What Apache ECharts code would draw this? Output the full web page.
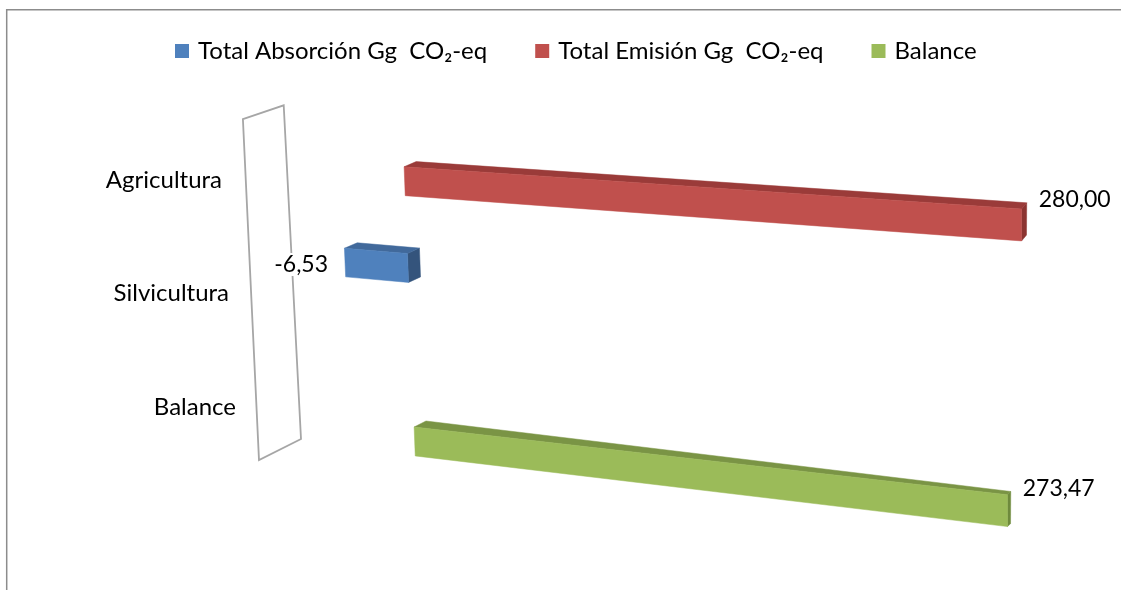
<!DOCTYPE html>
<html>
<head>
<meta charset="utf-8">
<script src="https://cdn.jsdelivr.net/npm/echarts@6/dist/echarts.min.js"></script>
<style>
  html, body { margin: 0; padding: 0; background: #fff; }
  #main { width: 1121px; height: 590px; }
</style>
</head>
<body>
<div id="main"></div>
<script>
var categories = ['Agricultura', 'Silvicultura', 'Balance'];
var seriesNames = ['Total Absorción Gg  CO₂-eq', 'Total Emisión Gg  CO₂-eq', 'Balance'];
var absorcion = [null, -6.53, null];
var emision = [280.00, null, null];
var balance = [null, null, 273.47];

var FONT = 'Lato';
// colours: front, top, side
var faces = [
  ['#4F81BD', '#41699B', '#34547C'],
  ['#C0504D', '#9A3B39', '#8C3431'],
  ['#9BBB59', '#7A9445', '#6E8A3C']
];

// perspective: the grid rect is bent onto this quad (front plane of the bars)
// corners in order (left,top) (right,top) (left,bottom) (right,bottom)
var FRONT = [[256.5, 114.5], [1065.8, 163.8], [273, 453], [1064.9, 549.5]];
// depth vector of one bar at the same four corners
var DEPTH = [[13.6, -4.6], [5, -6.8], [14, -7], [2.1, -2.4]];

function bil(c, u, t) {
  return [
    (1 - u) * (1 - t) * c[0][0] + u * (1 - t) * c[1][0] + (1 - u) * t * c[2][0] + u * t * c[3][0],
    (1 - u) * (1 - t) * c[0][1] + u * (1 - t) * c[1][1] + (1 - u) * t * c[2][1] + u * t * c[3][1]
  ];
}
function proj(cs, px, py, d) {
  var u = (px - cs.x) / cs.width, t = (py - cs.y) / cs.height;
  var p = bil(FRONT, u, t), q = bil(DEPTH, u, t);
  return [p[0] + d * q[0], p[1] + d * q[1]];
}
function poly(points, fill) {
  return { type: 'polygon', shape: { points: points }, style: { fill: fill, stroke: fill, lineWidth: 0.5 } };
}

function renderBar(params, api) {
  var v = api.value(0);
  if (v == null || isNaN(v)) return;
  var cs = params.coordSys;
  var k = params.seriesIndex;
  var band = api.size([0, 1])[1];
  var h = band * 0.25;
  var p0 = api.coord([0, api.value(1)]);
  var p1 = api.coord([v, api.value(1)]);
  var yc = p0[1] + (k - 1) * h;
  var ya = yc - h / 2, yb = yc + h / 2;
  var xl = Math.min(p0[0], p1[0]), xr = Math.max(p0[0], p1[0]);
  var S = function (x, y, d) { return proj(cs, x, y, d); };
  var col = faces[k];
  var txt = v.toFixed(2).replace('.', ',');
  var label;
  if (v < 0) {
    var pl = S(xl, yc, 0);
    label = { type: 'text', z2: 10, style: { text: txt, x: pl[0] - 16, y: pl[1] + 2, fill: '#000',
      font: '23px ' + FONT, align: 'right', verticalAlign: 'middle',
      backgroundColor: '#fff', padding: [0, 1, 0, 1] } };
  } else {
    var pr = S(xr, ya, 1);
    label = { type: 'text', style: { text: txt, x: pr[0] + 12, y: pr[1] - 3, fill: '#000',
      font: '23px ' + FONT, align: 'left', verticalAlign: 'middle' } };
  }
  return {
    type: 'group',
    children: [
      poly([S(xr, ya, 0), S(xr, ya, 1), S(xr, yb, 1), S(xr, yb, 0)], col[2]),
      poly([S(xl, ya, 0), S(xr, ya, 0), S(xr, ya, 1), S(xl, ya, 1)], col[1]),
      poly([S(xl, ya, 0), S(xr, ya, 0), S(xr, yb, 0), S(xl, yb, 0)], col[0]),
      label
    ]
  };
}

function renderWall(params, api) {
  var cs = params.coordSys;
  var S = function (x, y, d) { return proj(cs, x, y, d); };
  var top = cs.y, bot = cs.y + cs.height;
  return {
    type: 'polygon',
    shape: { points: [S(cs.x, top, -1), S(cs.x, top, 2), S(cs.x, bot, 2), S(cs.x, bot, -1)] },
    style: { fill: 'none', stroke: '#a6a6a6', lineWidth: 1.8 }
  };
}

function toItems(arr) {
  return arr.map(function (v, i) { return [v == null ? '-' : v, i]; });
}

var chart = echarts.init(document.getElementById('main'));
chart.setOption({
  backgroundColor: '#fff',
  animation: false,
  graphic: [{
    type: 'rect', silent: true,
    shape: { x: 6.7, y: 9.8, width: 1300, height: 800 },
    style: { fill: 'none', stroke: '#8c8c8c', lineWidth: 1.5 }
  }],
  legend: {
    data: seriesNames,
    left: 170, top: 34,
    icon: 'rect',
    itemWidth: 14, itemHeight: 14, itemGap: 48,
    textStyle: { fontFamily: FONT, fontSize: 24, color: '#000', padding: [0, 0, 0, 4] }
  },
  grid: { left: 244, top: 123.5, width: 800, height: 340, outerBoundsMode: 'none' },
  xAxis: [
    { type: 'value', min: -66, max: 300, show: false },
    { type: 'value', min: -15, max: 68.18, show: false }
  ],
  yAxis: {
    type: 'category',
    data: categories,
    inverse: true,
    axisLine: { show: false },
    axisTick: { show: false },
    splitLine: { show: false },
    axisLabel: {
      margin: 8,
      formatter: function (val, i) { return '{c' + i + '|' + val + '}'; },
      rich: {
        c0: { fontFamily: FONT, fontSize: 24, color: '#000', padding: [0, 14, 0, 0] },
        c1: { fontFamily: FONT, fontSize: 24, color: '#000', padding: [0, 7, 0, 0] },
        c2: { fontFamily: FONT, fontSize: 24, color: '#000' }
      }
    }
  },
  series: [
    { name: seriesNames[0], type: 'custom', xAxisIndex: 1, renderItem: renderBar,
      itemStyle: { color: faces[0][0] }, encode: { x: 0, y: 1 }, data: toItems(absorcion) },
    { name: seriesNames[1], type: 'custom', renderItem: renderBar,
      itemStyle: { color: faces[1][0] }, encode: { x: 0, y: 1 }, data: toItems(emision) },
    { name: seriesNames[2], type: 'custom', renderItem: renderBar,
      itemStyle: { color: faces[2][0] }, encode: { x: 0, y: 1 }, data: toItems(balance) },
    { name: 'wall', type: 'custom', silent: true, renderItem: renderWall,
      encode: { x: 0, y: 1 }, data: [[-66, 0]] }
  ]
});
</script>
</body>
</html>
